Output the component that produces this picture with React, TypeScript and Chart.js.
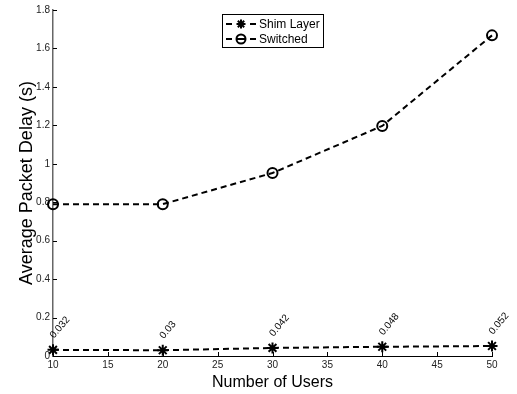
import React, { useEffect, useRef } from "react";
import { Chart, registerables } from "chart.js";

Chart.register(...registerables);

const users = [10, 20, 30, 40, 50];
const shimLayer = [0.032, 0.03, 0.042, 0.048, 0.052];
const switched = [0.79, 0.79, 0.952, 1.197, 1.668];
const shimLabels = ["0.032", "0.03", "0.042", "0.048", "0.052"];
const seriesNames = ["Shim Layer", "Switched"];
const xTitle = "Number of Users";
const yTitle = "Average Packet Delay (s)";

const FONT = "'Liberation Sans', Arial, Helvetica, sans-serif";

const inwardTicks = {
  id: "inwardTicks",
  afterDraw(chart: any) {
    const ctx = chart.ctx;
    const xs = chart.scales.x;
    const ys = chart.scales.y;
    const area = chart.chartArea;
    ctx.save();
    ctx.strokeStyle = "#000";
    ctx.lineWidth = 1;
    xs.ticks.forEach((t: any) => {
      const px = Math.round(xs.getPixelForValue(t.value)) + 0.5;
      ctx.beginPath();
      ctx.moveTo(px, area.bottom);
      ctx.lineTo(px, area.bottom - 4);
      ctx.stroke();
    });
    ys.ticks.forEach((t: any) => {
      const py = Math.round(ys.getPixelForValue(t.value)) + 0.5;
      ctx.beginPath();
      ctx.moveTo(area.left, py);
      ctx.lineTo(area.left + 4, py);
      ctx.stroke();
    });
    ctx.restore();
  },
};

const dataLabels = {
  id: "dataLabels",
  afterDatasetsDraw(chart: any) {
    const ctx = chart.ctx;
    const meta = chart.getDatasetMeta(0);
    ctx.save();
    ctx.fillStyle = "#000";
    ctx.font = `10px ${FONT}`;
    ctx.textAlign = "left";
    ctx.textBaseline = "alphabetic";
    meta.data.forEach((pt: any, i: number) => {
      ctx.save();
      ctx.translate(pt.x + 1, pt.y - 11);
      ctx.rotate((-50 * Math.PI) / 180);
      ctx.fillText(shimLabels[i], 0, 0);
      ctx.restore();
    });
    ctx.restore();
  },
};

function drawMarker(ctx: CanvasRenderingContext2D, kind: string, x: number, y: number, r: number) {
  ctx.beginPath();
  if (kind === "star") {
    ctx.moveTo(x - r, y);
    ctx.lineTo(x + r, y);
    ctx.moveTo(x, y - r);
    ctx.lineTo(x, y + r);
    const d = r * 0.7071;
    ctx.moveTo(x - d, y - d);
    ctx.lineTo(x + d, y + d);
    ctx.moveTo(x - d, y + d);
    ctx.lineTo(x + d, y - d);
  } else {
    ctx.arc(x, y, r, 0, Math.PI * 2);
    ctx.moveTo(x - r, y);
    ctx.lineTo(x + r, y);
  }
  ctx.stroke();
}

const customLegend = {
  id: "customLegend",
  afterDraw(chart: any) {
    const ctx = chart.ctx;
    ctx.save();
    ctx.fillStyle = "#fff";
    ctx.fillRect(222.5, 14.5, 101, 33);
    ctx.strokeStyle = "#000";
    ctx.lineWidth = 1;
    ctx.strokeRect(222.5, 14.5, 101, 33);
    const rows = [24, 39];
    const kinds = ["star", "circle"];
    chart.data.datasets.forEach((ds: any, i: number) => {
      const y = rows[i];
      ctx.strokeStyle = "#000";
      ctx.lineWidth = 2;
      ctx.beginPath();
      ctx.moveTo(226, y);
      ctx.lineTo(232, y);
      ctx.moveTo(250, y);
      ctx.lineTo(256, y);
      ctx.stroke();
      drawMarker(ctx, kinds[i], 241, y, 4.5);
      ctx.fillStyle = "#000";
      ctx.font = `12px ${FONT}`;
      ctx.textAlign = "left";
      ctx.textBaseline = "middle";
      ctx.fillText(ds.label, 259, y + 0.5);
    });
    ctx.restore();
  },
};

export default function App() {
  const ref = useRef<HTMLCanvasElement | null>(null);
  useEffect(() => {
    if (!ref.current) return;
    const chart = new Chart(ref.current, {
      type: "line",
      data: {
        datasets: [
          {
            label: seriesNames[0],
            data: users.map((u, i) => ({ x: u, y: shimLayer[i] })),
            borderColor: "#000",
            borderWidth: 2,
            borderDash: [6, 4],
            pointStyle: "star",
            pointRadius: 5.5,
            pointBorderWidth: 2,
            pointBorderColor: "#000",
            pointBackgroundColor: "#000",
            fill: false,
            tension: 0,
            clip: false,
          } as any,
          {
            label: seriesNames[1],
            data: users.map((u, i) => ({ x: u, y: switched[i] })),
            borderColor: "#000",
            borderWidth: 2,
            borderDash: [6, 4],
            pointStyle: "circle",
            pointRadius: 5,
            pointBorderWidth: 2,
            pointBorderColor: "#000",
            pointBackgroundColor: "rgba(0,0,0,0)",
            fill: false,
            tension: 0,
            clip: false,
          } as any,
        ],
      },
      options: {
        responsive: false,
        animation: false,
        layout: { padding: { left: 0, right: 25, top: 10, bottom: 0 } },
        plugins: {
          legend: { display: false },
          tooltip: { enabled: false },
        },
        scales: {
          x: {
            type: "linear",
            min: 10,
            max: 50,
            afterFit: (s: any) => {
              s.height = 38;
            },
            ticks: {
              stepSize: 5,
              color: "#222",
              font: { family: FONT, size: 10 },
              padding: 3,
              maxRotation: 0,
            },
            grid: { display: false, drawTicks: false },
            border: { display: true, color: "#000", width: 1 },
            title: {
              display: true,
              text: xTitle,
              color: "#000",
              font: { family: FONT, size: 16 },
              padding: { top: 0, bottom: 2 },
            },
          },
          y: {
            type: "linear",
            min: 0,
            max: 1.8,
            afterFit: (s: any) => {
              s.width = 53;
            },
            ticks: {
              stepSize: 0.2,
              color: "#222",
              font: { family: FONT, size: 10 },
              padding: 3,
              callback: (v: any) => String(Number(Number(v).toFixed(1))),
            },
            grid: { display: false, drawTicks: false },
            border: { display: true, color: "#666", width: 1.5 },
            title: {
              display: true,
              text: yTitle,
              color: "#000",
              font: { family: FONT, size: 18 },
              padding: { top: 16, bottom: 0 },
            },
          },
        },
      },
      plugins: [inwardTicks, dataLabels, customLegend],
    });
    return () => chart.destroy();
  }, []);
  return (
    <div style={{ position: "absolute", left: 0, top: 0, width: 517, height: 394, background: "#fff" }}>
      <canvas ref={ref} width={517} height={394} />
    </div>
  );
}
